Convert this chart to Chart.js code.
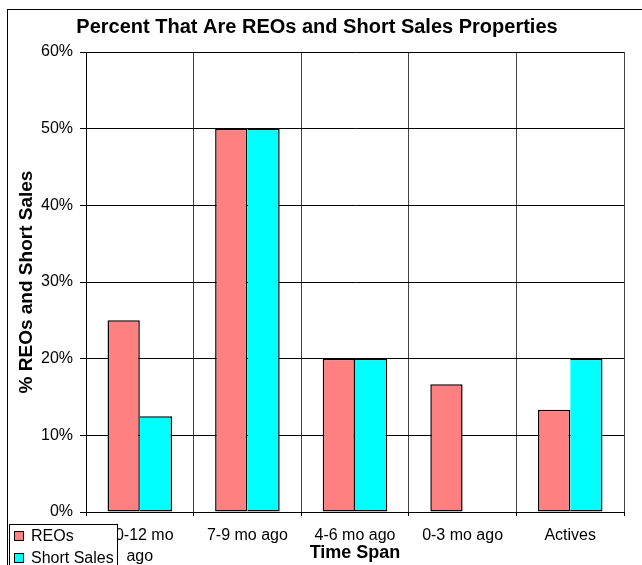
<!DOCTYPE html>
<html>
<head>
<meta charset="utf-8">
<title>Percent That Are REOs and Short Sales Properties</title>
<script src="https://cdn.jsdelivr.net/npm/chart.js@4.4.1/dist/chart.umd.min.js"></script>
<style>
    body { margin: 0; background: #fff; }
    #wrap { width: 642px; height: 565px; }
</style>
</head>
<body>
<div id="wrap"><canvas id="myChart" width="642" height="565"></canvas></div>
<script>
// dados
var categorias = [['10-12 mo', 'ago'], '7-9 mo ago', '4-6 mo ago', '0-3 mo ago', 'Actives'];
var reos = [25, 50, 20, 16.67, 13.33];
var shortSales = [12.5, 50, 20, 0, 20];
var yTicks = [0, 10, 20, 30, 40, 50, 60];

var fonte = 'Arial, "Liberation Sans", sans-serif';

// moldura externa + legenda desenhada por cima dos rotulos
var molduraLegenda = {
    id: 'molduraLegenda',
    afterDraw: function (chart) {
        var ctx = chart.ctx;
        ctx.save();
        ctx.strokeStyle = '#000';
        ctx.lineWidth = 1;
        ctx.strokeRect(7.5, 9.5, 700, 600);

        // caixa da legenda
        ctx.fillStyle = '#fff';
        ctx.fillRect(9, 524, 108, 50);
        ctx.strokeRect(9.5, 524.5, 108, 50);

        ctx.font = '16px ' + fonte;
        ctx.textBaseline = 'middle';
        chart.data.datasets.forEach(function (ds, i) {
            var y = 536 + i * 22;
            ctx.fillStyle = ds.backgroundColor;
            ctx.fillRect(14.5, y - 4.5, 9, 9);
            ctx.strokeStyle = '#000';
            ctx.strokeRect(14.5, y - 4.5, 9, 9);
            ctx.fillStyle = '#000';
            ctx.fillText(ds.label, 31, y + 1);
        });
        ctx.restore();
    }
};

var ctx = document.getElementById('myChart').getContext('2d');
window.myChart = new Chart(ctx, {
    type: 'bar',
    data: {
        labels: categorias,
        datasets: [{
            label: 'REOs',
            data: reos,
            backgroundColor: '#FF8080',
            borderColor: '#000',
            borderWidth: 1.5,
            borderSkipped: false
        }, {
            label: 'Short Sales',
            data: shortSales,
            backgroundColor: '#00FFFF',
            borderColor: '#000',
            borderWidth: 1.5,
            // a borda esquerda ja vem da barra vizinha
            borderSkipped: 'left'
        }]
    },
    options: {
        responsive: false,
        animation: false,
        devicePixelRatio: 1,
        layout: {
            padding: { left: 10, right: 18, top: 0, bottom: 0 }
        },
        datasets: {
            bar: { categoryPercentage: 0.6, barPercentage: 1 }
        },
        plugins: {
            legend: { display: false },
            tooltip: { enabled: false },
            title: {
                display: true,
                text: 'Percent That Are REOs and Short Sales Properties',
                color: '#000',
                font: { family: fonte, size: 20, weight: 'bold', lineHeight: 1.2 },
                padding: { top: 15, bottom: 13 }
            }
        },
        scales: {
            x: {
                afterFit: function (scale) { scale.height = 53; },
                grid: {
                    offset: true,
                    color: '#444',
                    tickColor: '#000',
                    tickLength: 4
                },
                border: { color: '#000' },
                ticks: {
                    color: '#000',
                    padding: 9,
                    maxRotation: 0,
                    autoSkip: false,
                    font: { family: fonte, size: 16, lineHeight: 1.3 }
                },
                title: {
                    display: true,
                    text: 'Time Span',
                    color: '#000',
                    font: { family: fonte, size: 18, weight: 'bold', lineHeight: 1.2 },
                    padding: { top: 0, bottom: 1 }
                }
            },
            y: {
                min: 0,
                max: 60,
                afterFit: function (scale) { scale.width = 76; },
                afterBuildTicks: function (scale) {
                    scale.ticks = yTicks.map(function (v) { return { value: v }; });
                },
                grid: {
                    color: '#000',
                    tickColor: '#000',
                    tickLength: 6
                },
                border: { color: '#000' },
                ticks: {
                    color: '#000',
                    padding: 7,
                    font: { family: fonte, size: 16 },
                    callback: function (v) { return v + '%'; }
                },
                title: {
                    display: true,
                    text: '% REOs and Short Sales',
                    color: '#000',
                    font: { family: fonte, size: 19, weight: 'bold', lineHeight: 1.2 },
                    padding: { top: 5, bottom: 0 }
                }
            }
        }
    },
    plugins: [molduraLegenda]
});
</script>
</body>
</html>
